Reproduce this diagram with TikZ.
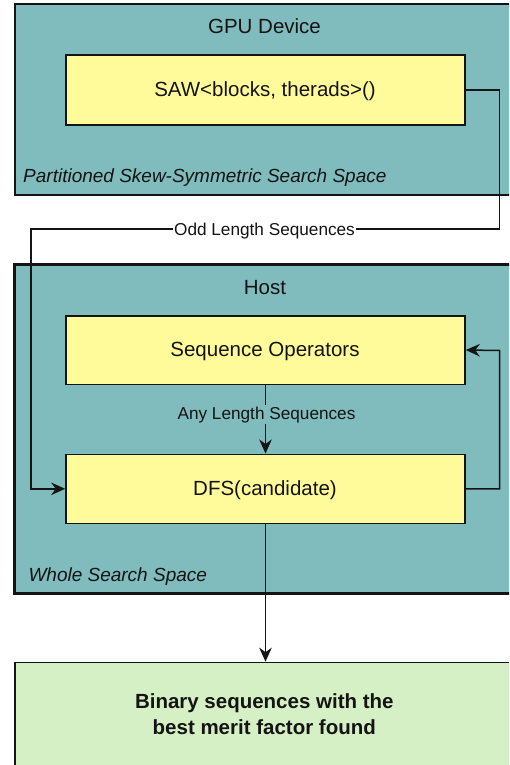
\documentclass[tikz,border=0pt]{standalone}
\usepackage{fontspec}
\setmainfont{Liberation Sans}
\usetikzlibrary{arrows.meta}
\definecolor{tealfill}{RGB}{128,187,189}
\definecolor{yelfill}{RGB}{255,250,154}
\definecolor{grnfill}{RGB}{213,240,196}
\definecolor{ink}{RGB}{20,20,20}
\begin{document}
\begin{tikzpicture}[x=1pt,y=-1pt,
  container/.style={draw=ink, fill=tealfill, anchor=north west, inner sep=0pt, minimum width=530pt},
  procbox/.style={draw=ink, fill=yelfill, line width=1.6pt, minimum width=399pt, inner sep=0pt, font=\fontsize{20.5}{24}\selectfont, text=ink},
  maintxt/.style={font=\fontsize{20.5}{26.3}\selectfont, text=ink, inner sep=0pt},
  notetxt/.style={font=\fontsize{19}{23}\selectfont\itshape, text=ink, inner sep=0pt, anchor=base west},
  lbl/.style={font=\fontsize{17.2}{20}\selectfont, text=ink, inner sep=1.5pt, anchor=base},
  conn/.style={draw=ink, line width=1.5pt},
  tip/.style={-{Stealth[length=14pt,width=12.5pt,inset=4.5pt]}}
]
\useasboundingbox (0,0) rectangle (509,765);
\clip (0,0) rectangle (509,765);
\fill[white] (0,0) rectangle (509,765);

% containers
\node[container, line width=2pt, minimum height=190pt] (gpu) at (14,3.5) {};
\node[container, line width=3.2pt, minimum height=329.5pt] (host) at (13,262.5) {};
\node[container, fill=grnfill, line width=1.5pt, minimum height=150pt] (res) at (14,661.7) {};

% container titles
\node[maintxt, anchor=base] (gputitle) at (264.5,34) {GPU Device};
\node[notetxt] (gpunote) at (23,182.5) {Partitioned Skew-Symmetric Search Space};
\node[maintxt, anchor=base] (hosttitle) at (265,294) {Host};
\node[notetxt] (hostnote) at (28.3,581.7) {Whole Search Space};

% process boxes
\node[procbox, minimum height=70pt] (saw) at (265.5,90) {};
\node[maintxt, anchor=base] (sawtxt) at (265,96.7) {SAW<blocks, therads>()};
\node[procbox, minimum height=68.6pt] (seq) at (265.5,350) {};
\node[maintxt, anchor=base] (seqtxt) at (265,356) {Sequence Operators};
\node[procbox, minimum height=69pt] (dfs) at (265.5,488.8) {};
\node[maintxt, anchor=base] (dfstxt) at (265,495.7) {DFS(candidate)};

% result text
\node[maintxt, anchor=base, font=\fontsize{20.5}{26.3}\selectfont\bfseries] (restxt1) at (264.3,708) {Binary sequences with the};
\node[maintxt, anchor=base, font=\fontsize{20.5}{26.3}\selectfont\bfseries] (restxt2) at (264.3,734.3) {best merit factor found};

% connectors
\coordinate (c1) at (499.5,229);
\coordinate (c2) at (31,229);
\coordinate (c3) at (499.5,350.5);
\draw[conn, tip] (saw.east) -| (c1) -- (c2) |- (dfs.west);
\node[lbl, fill=white] (oddlbl) at (264.5,235) {Odd Length Sequences};

\draw[conn, tip] (dfs.east) -| (c3) -- (seq.east);

\draw[conn, tip] (seq.south) -- (dfs.north);
\node[lbl, fill=tealfill] (anylbl) at (266.5,419) {Any Length Sequences};

\draw[conn, tip] (dfs.south) -- (dfs.south |- res.north);
\end{tikzpicture}
\end{document}
